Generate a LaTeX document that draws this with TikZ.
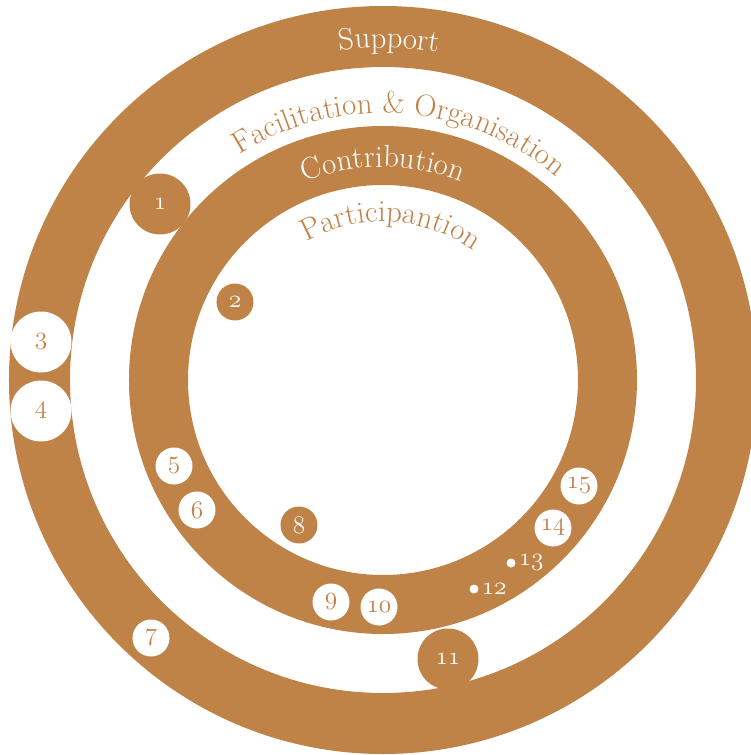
\documentclass[tikz,border=0pt]{standalone}
\usepackage{fontspec}
\usetikzlibrary{decorations.text}
\definecolor{ochre}{RGB}{191,131,72}
\newcommand\ringfont{\fontsize{17.5}{21}\selectfont}
\newcommand\numfont{\fontsize{14.5}{17}\usefont{OML}{cmm}{m}{it}}

\begin{document}
\begin{tikzpicture}[x=0.02cm, y=0.02cm,
    badge/.style={circle, inner sep=0pt, minimum size=0.74cm, font=\numfont},
    brownbadge/.style={badge, fill=ochre, text=white},
    whitebadge/.style={badge, fill=white, text=ochre},
    large/.style={minimum size=1.22cm},
    tinydot/.style={circle, fill=white, inner sep=0pt, minimum size=0.18cm}]
        \useasboundingbox (-383,-375) rectangle (368,380);

        % the two rings
        \fill[ochre, even odd rule] (0,0) circle[radius=374] circle[radius=313];
        \fill[ochre, even odd rule] (0,0) circle[radius=254] circle[radius=195];

        % ring titles
        \path[decorate, decoration={text along path, text align=center, text color=white,
            text={|\ringfont|Support}}] (169:332) arc[start angle=169, end angle=9, radius=332];
        \path[decorate, decoration={text along path, text align=center, text color=ochre,
            text={|\ringfont|Facilitation {\&} Organisation}}] (166:267) arc[start angle=166, end angle=6, radius=267];
        \path[decorate, decoration={text along path, text align=center, text color=white,
            text={|\ringfont|Contribution}}] (170:213) arc[start angle=170, end angle=10, radius=213];
        \path[decorate, decoration={text along path, text align=center, text color=ochre,
            text={|\ringfont|Participantion}}] (167:158) arc[start angle=167, end angle=7, radius=158];

        \node[brownbadge, large] (b1) at (-223, 176) {1};
        \node[brownbadge] (b2) at (-148, 78) {2};
        \node[whitebadge, large] (b3) at (-342, 38) {3};
        \node[whitebadge, large] (b4) at (-342, -31) {4};
        \node[whitebadge] (b5) at (-209, -86) {5};
        \node[whitebadge] (b6) at (-186, -130) {6};
        \node[whitebadge] (b7) at (-232, -258) {7};
        \node[brownbadge] (b8) at (-84, -145) {8};
        \node[whitebadge] (b9) at (-52, -222) {9};
        \node[whitebadge] (b10) at (-4, -227) {10};
        \node[brownbadge, large] (b11) at (65, -279) {11};
        \node[tinydot, label={[text=white, font=\numfont, inner sep=1.5pt]right:12}] (b12) at (91, -209) {};
        \node[tinydot, label={[text=white, font=\numfont, inner sep=1.5pt]right:13}] (b13) at (128, -183) {};
        \node[whitebadge] (b14) at (170, -148) {14};
        \node[whitebadge] (b15) at (196, -106) {15};
      \end{tikzpicture}
\end{document}
